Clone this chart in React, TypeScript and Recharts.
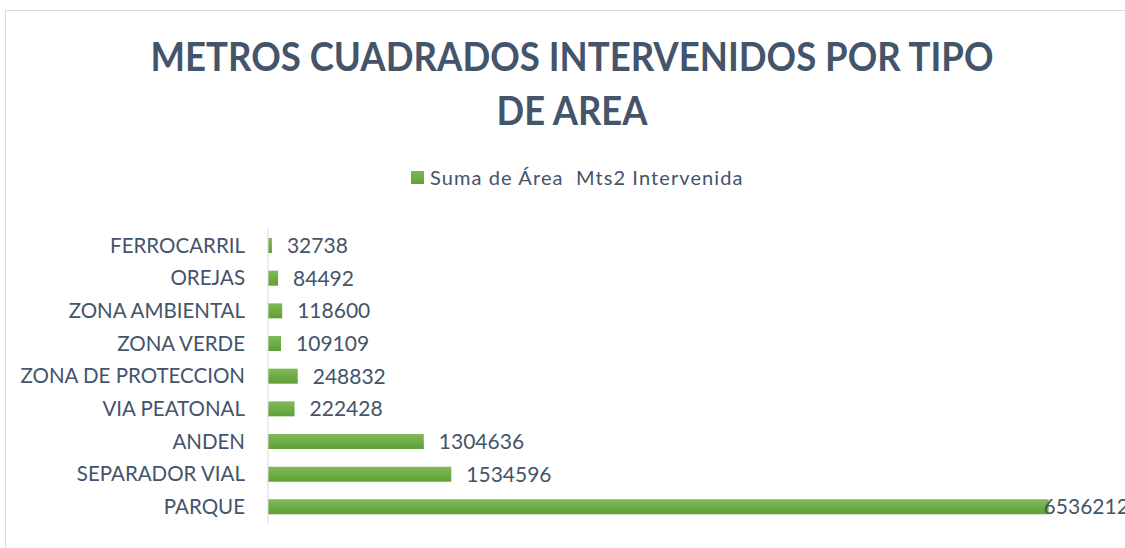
import React from 'react';
import { BarChart, Bar, XAxis, YAxis, LabelList } from 'recharts';

const categories = [
  'FERROCARRIL',
  'OREJAS',
  'ZONA AMBIENTAL',
  'ZONA VERDE',
  'ZONA DE PROTECCION',
  'VIA PEATONAL',
  'ANDEN',
  'SEPARADOR VIAL',
  'PARQUE'
];
const areaValues = [32738, 84492, 118600, 109109, 248832, 222428, 1304636, 1534596, 6536212];
const seriesName = 'Suma de Área  Mts2 Intervenida';
const titleLines = ['METROS CUADRADOS INTERVENIDOS POR TIPO', 'DE AREA'];

const data = categories.map((name, i) => ({ name, value: areaValues[i] }));

const slate = '#44546A';
const font = 'Lato, "Open Sans", sans-serif';

const ValueLabel = (props: any) => {
  const { x, y, width, height, value } = props;
  let tx = x + width + 15;
  // excel pulls the label back when it runs off the chart
  if (tx > 1040) tx = x + width - 5;
  return (
    <text x={tx} y={y + height / 2} dy="0.36em" fill={slate} fontSize={21} fontFamily={font}>
      {value}
    </text>
  );
};

export default function App() {
  return (
    <div style={{ position: 'absolute', left: 0, top: 0, width: 1125, height: 548, overflow: 'hidden', background: '#fff', fontFamily: font }}>
      <div style={{ position: 'absolute', left: 5, top: 10, right: -2, bottom: -2, borderTop: '1px solid #D9D9D9', borderLeft: '1px solid #D9D9D9' }} />
      <svg width={1125} height={140} style={{ position: 'absolute', left: 0, top: 0 }}>
        <text x={572} y={71} textAnchor="middle" fill={slate} fontFamily={font} fontWeight={700} fontSize={41}
          textLength={843} lengthAdjust="spacingAndGlyphs">{titleLines[0]}</text>
        <text x={572} y={125} textAnchor="middle" fill={slate} fontFamily={font} fontWeight={700} fontSize={41}
          textLength={151} lengthAdjust="spacingAndGlyphs">{titleLines[1]}</text>
      </svg>
      <div style={{ position: 'absolute', left: 411, top: 165, display: 'flex', alignItems: 'center', color: slate, fontSize: 20, letterSpacing: 1.1 }}>
        <span style={{ display: 'inline-block', width: 13, height: 13, background: 'linear-gradient(#7DB957, #61A035)', marginRight: 6 }} />
        <span style={{ whiteSpace: 'pre' }}>{seriesName}</span>
      </div>
      <div style={{ position: 'absolute', left: 0, top: 0 }}>
        <BarChart width={1125} height={548} data={data} layout="vertical"
          margin={{ top: 229, right: 21, bottom: 25, left: 0 }}>
          <defs>
            <linearGradient id="barGreen" x1="0" y1="0" x2="0" y2="1">
              <stop offset="0%" stopColor="#7FBA59" />
              <stop offset="100%" stopColor="#5F9F34" />
            </linearGradient>
          </defs>
          <XAxis type="number" domain={[0, 7000000]} hide />
          <YAxis
            type="category"
            dataKey="name"
            width={268}
            axisLine={{ stroke: '#D9D9D9' }}
            tickLine={false}
            tickMargin={17}
            tick={{ fill: slate, fontSize: 20.5, fontFamily: font }}
          />
          <Bar dataKey="value" name={seriesName} fill="url(#barGreen)" barSize={15} isAnimationActive={false}>
            <LabelList dataKey="value" content={ValueLabel} />
          </Bar>
        </BarChart>
      </div>
    </div>
  );
}
